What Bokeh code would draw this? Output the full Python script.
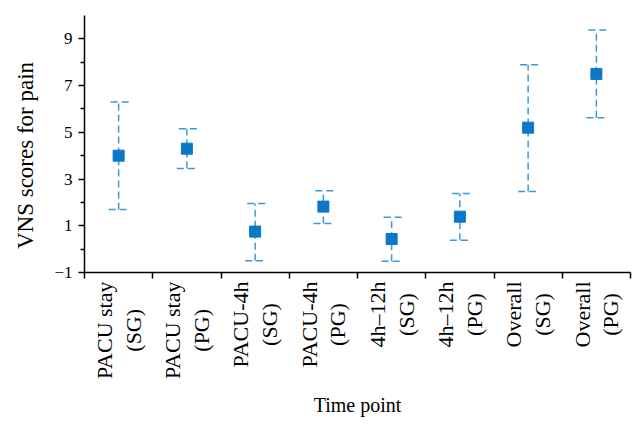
import math
from bokeh.plotting import figure
from bokeh.layouts import column, row
from bokeh.models import FixedTicker, ColumnDataSource, Whisker, TeeHead, Label, Range1d
from bokeh.embed import file_html
from bokeh.resources import INLINE

categories = ["PACU stay\n(SG)", "PACU stay\n(PG)", "PACU-4h\n(SG)", "PACU-4h\n(PG)",
              "4h\u201312h\n(SG)", "4h\u201312h\n(PG)", "Overall\n(SG)", "Overall\n(PG)"]
means = [4.0, 4.3, 0.75, 1.82, 0.43, 1.39, 5.2, 7.5]
upper = [6.3, 5.15, 1.95, 2.5, 1.36, 2.38, 7.89, 9.38]
lower = [1.7, 3.45, -0.5, 1.1, -0.52, 0.38, 2.47, 5.62]
y_ticks = [-1, 1, 3, 5, 7, 9]
y_minor = [0, 2, 4, 6, 8]
x_title = "Time point"
y_title = "VNS scores for pain"

xs = [i + 0.5 for i in range(len(categories))]
src = ColumnDataSource(dict(x=xs, m=means, up=upper, lo=lower))

FONT = "Liberation Serif"
LINE = "#3a9ad8"
MARK = "#0a78c6"
LEFT_W = 40


def clean(fig):
    fig.outline_line_color = None
    fig.grid.grid_line_color = None
    fig.background_fill_color = "white"
    fig.border_fill_color = "white"


p = figure(frame_width=546, frame_height=257, output_backend="svg", toolbar_location=None,
           x_range=Range1d(0, len(categories)), y_range=(-1, 10),
           min_border_left=84 - LEFT_W, min_border_top=15, min_border_right=14, min_border_bottom=9)
clean(p)

w = Whisker(base="x", upper="up", lower="lo", source=src,
            line_color=LINE, line_width=1.5, line_dash="7 4",
            upper_head=TeeHead(size=20, line_color=LINE, line_width=1.5, line_dash="7 4"),
            lower_head=TeeHead(size=20, line_color=LINE, line_width=1.5, line_dash="7 4"))
p.add_layout(w)
p.scatter("x", "m", source=src, marker="square", size=11, fill_color=MARK, line_color=MARK)

# x axis: ticks at category boundaries
p.xaxis.ticker = FixedTicker(ticks=xs, minor_ticks=list(range(len(categories) + 1)))
p.xaxis.major_label_overrides = {x: "" for x in xs}
p.xaxis.major_label_text_font_size = "1px"
p.xaxis.major_tick_out = 0
p.xaxis.major_tick_in = 0
p.xaxis.minor_tick_out = 6
p.xaxis.minor_tick_in = 0
p.xaxis.major_label_standoff = 0

# y axis
p.yaxis.ticker = FixedTicker(ticks=y_ticks, minor_ticks=y_minor)
p.yaxis.major_label_overrides = {-1: "\u22121"}
p.yaxis.major_tick_out = 6
p.yaxis.major_tick_in = 0
p.yaxis.minor_tick_out = 4
p.yaxis.minor_tick_in = 0
p.yaxis.major_label_standoff = 6
p.yaxis.major_label_text_font = FONT
p.yaxis.major_label_text_font_size = "17px"
p.yaxis.major_label_text_color = "black"

for ax in (p.xaxis, p.yaxis):
    ax.axis_line_color = "black"
    ax.axis_line_width = 1.5
    ax.major_tick_line_color = "black"
    ax.major_tick_line_width = 1.5
    ax.minor_tick_line_color = "black"
    ax.minor_tick_line_width = 1.5

# label strip below the axis, sharing the x scale
H = 147
s = figure(frame_width=546, frame_height=H, output_backend="svg", toolbar_location=None,
           x_range=p.x_range, y_range=Range1d(-H, 0), x_axis_type=None, y_axis_type=None,
           min_border_left=84 - LEFT_W, min_border_top=0, min_border_right=14, min_border_bottom=0)
clean(s)

for x, c in zip(xs, categories):
    s.add_layout(Label(x=x, y=0, text=c, angle=math.pi / 2,
                       anchor="center_right", text_align="center",
                       text_font=FONT, text_font_size="22px", text_color="black",
                       text_line_height=1.15))
s.add_layout(Label(x=len(categories) / 2, y=-123, text=x_title,
                   text_align="center", text_baseline="middle",
                   text_font=FONT, text_font_size="20px", text_color="black"))

# strip on the left for the y-axis title
TOTAL_H = 428
l = figure(frame_width=LEFT_W, frame_height=TOTAL_H, output_backend="svg", toolbar_location=None,
           x_range=Range1d(0, LEFT_W), y_range=Range1d(-TOTAL_H, 0), x_axis_type=None, y_axis_type=None,
           min_border_left=0, min_border_top=0, min_border_right=0, min_border_bottom=0)
clean(l)
l.add_layout(Label(x=25, y=-155, text=y_title, angle=math.pi / 2,
                   text_align="center", text_baseline="middle",
                   text_font=FONT, text_font_size="23px", text_color="black"))

layout = row(l, column(p, s, spacing=0), spacing=0)
open("out.html", "w").write(file_html(layout, INLINE))
